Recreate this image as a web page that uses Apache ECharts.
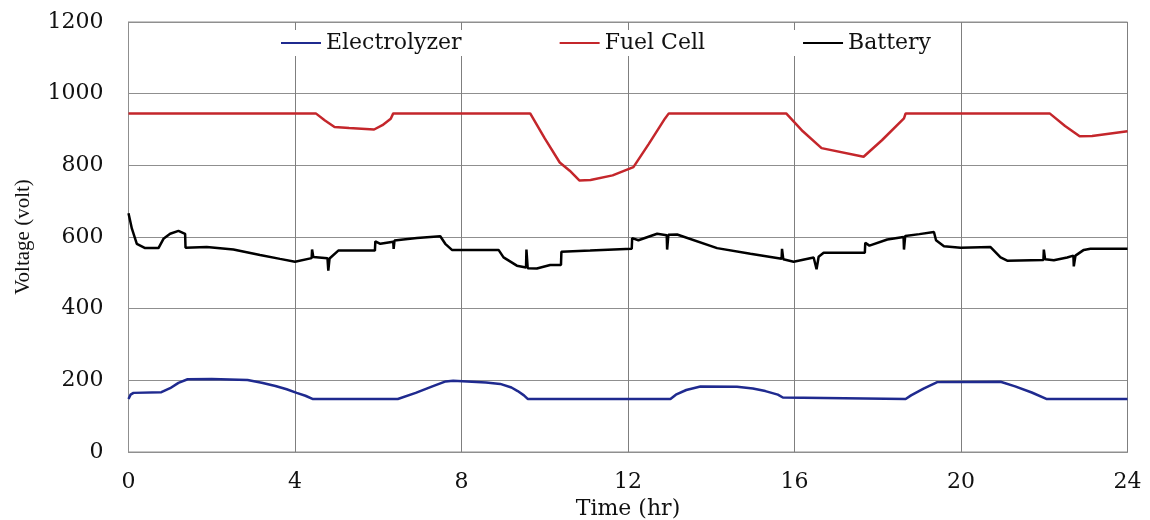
<!DOCTYPE html>
<html>
<head>
<meta charset="utf-8">
<script src="https://cdn.jsdelivr.net/npm/echarts@6/dist/echarts.min.js"></script>
<style>
html,body{margin:0;padding:0;background:#fff;}
#chart{width:1150px;height:520px;}
</style>
</head>
<body>
<div id="chart"></div>
<script>
// ---- Data (time in hours, voltage in volts) ----
const seriesNames = ['Electrolyzer', 'Fuel Cell', 'Battery'];
const xTicks = [0, 4, 8, 12, 16, 20, 24];
const yTicks = [0, 200, 400, 600, 800, 1000, 1200];

const electrolyzer = [
  [0,148],[0.05,160],[0.12,165],[0.79,167],[1.0,178],[1.2,193],[1.42,203],[2.0,204],
  [2.86,201],[3.2,193],[3.53,184],[3.8,175],[4.04,165],[4.25,157],[4.42,148],[6.47,148],
  [6.9,165],[7.3,183],[7.62,197],[7.8,199],[8.59,194],[8.93,190],[9.2,180],[9.35,170],
  [9.5,158],[9.59,148],[13.02,148],[13.15,160],[13.4,173],[13.74,183],[14.62,182],[15.0,177],
  [15.3,170],[15.6,160],[15.72,152],[15.75,148],[18.67,148],[18.8,158],[19.1,177],[19.43,195],
  [20.95,196],[21.3,183],[21.7,166],[22.05,148],[24,148]
];

const fuelCell = [
  [0,945],[4.5,945],[4.72,925],[4.95,907],[5.3,904],[5.9,900],[6.1,912],[6.3,930],[6.36,945],
  [9.65,945],[10.0,875],[10.36,808],[10.6,785],[10.83,758],[11.1,759],[11.63,772],[12.13,795],
  [12.5,860],[12.89,931],[12.98,945],[15.8,945],[16.2,895],[16.65,848],[17.66,824],[18.1,870],
  [18.63,931],[18.67,945],[22.13,945],[22.5,910],[22.85,881],[23.15,882],[24,895]
];

const battery = [
  [0,666],[0.08,624],[0.2,581],[0.4,569],[0.72,569],[0.84,595],[1.0,609],[1.2,617],[1.36,609],
  [1.37,570],[1.88,572],[2.52,565],[3.16,550],[3.64,539],[4.0,531],[4.40,541],[4.41,565],
  [4.44,544],[4.78,541],[4.80,506],[4.83,540],[5.04,562],[5.92,562],[5.93,588],[6.05,581],
  [6.36,587],[6.37,567],[6.39,590],[6.6,593],[6.93,597],[7.49,602],[7.61,581],[7.77,564],
  [8.89,564],[9.01,543],[9.33,520],[9.55,515],[9.56,565],[9.59,513],[9.81,512],[10.13,522],
  [10.39,522],[10.40,559],[11.09,562],[12.09,567],[12.10,597],[12.25,591],[12.70,609],[12.93,605],
  [12.94,565],[12.97,606],[13.18,607],[14.14,569],[14.94,553],[15.69,539],[15.70,567],[15.73,538],
  [15.98,531],[16.46,543],[16.53,510],[16.58,545],[16.70,556],[17.69,556],[17.70,584],[17.8,576],
  [18.23,593],[18.62,600],[18.63,565],[18.66,603],[19.0,608],[19.35,614],[19.40,591],[19.59,574],
  [19.99,570],[20.71,572],[20.95,543],[21.11,534],[21.98,536],[21.99,565],[22.02,538],[22.23,535],
  [22.55,543],[22.70,548],[22.71,518],[22.75,548],[22.95,564],[23.11,567],[24,567]
];

const colors = ['#1f2a8f', '#c4262b', '#000000'];
const font = 'DejaVu Serif';

const chart = echarts.init(document.getElementById('chart'), null, {renderer: 'canvas'});
const mk = (name, data, color) => ({
  name, type: 'line', data, showSymbol: false, symbol: 'none',
  lineStyle: {color, width: 2.5}, itemStyle: {color}, animation: false
});
chart.setOption({
  animation: false,
  backgroundColor: '#fff',
  grid: {left: 128.5, right: 22.5, top: 22, bottom: 68, show: true, borderColor: '#8f8f8f', borderWidth: 1,
         containLabel: false, outerBoundsMode: 'none'},
  legend: {
    data: seriesNames.map(n => ({name: n, icon: 'rect'})),
    left: 278, top: 30, itemWidth: 40, itemHeight: 2, itemGap: 98,
    backgroundColor: '#fff', padding: [2, 3],
    textStyle: {fontFamily: font, fontSize: 22, color: '#111'}
  },
  xAxis: {
    type: 'value', min: xTicks[0], max: xTicks[xTicks.length-1], interval: 4,
    name: 'Time (hr)', nameLocation: 'middle', nameGap: 45,
    nameTextStyle: {fontFamily: font, fontSize: 22, color: '#111'},
    axisLine: {lineStyle: {color: '#8f8f8f'}},
    axisTick: {show: false},
    axisLabel: {fontFamily: font, fontSize: 22, color: '#111', margin: 19, formatter: v => String(v)},
    splitLine: {show: true, lineStyle: {color: '#7f7f7f', width: 1}}
  },
  yAxis: {
    type: 'value', min: yTicks[0], max: yTicks[yTicks.length-1], interval: 200,
    name: 'Voltage (volt)', nameLocation: 'middle', nameGap: 95,
    nameTextStyle: {fontFamily: 'Liberation Serif', fontSize: 21, color: '#111'},
    axisLine: {show: true, lineStyle: {color: '#8f8f8f'}},
    axisTick: {show: false},
    axisLabel: {fontFamily: font, fontSize: 22, color: '#111', margin: 25, formatter: v => String(v)},
    splitLine: {show: true, lineStyle: {color: '#8f8f8f', width: 1}}
  },
  series: [
    mk(seriesNames[0], electrolyzer, colors[0]),
    mk(seriesNames[1], fuelCell, colors[1]),
    mk(seriesNames[2], battery, colors[2])
  ]
});
</script>
</body>
</html>
